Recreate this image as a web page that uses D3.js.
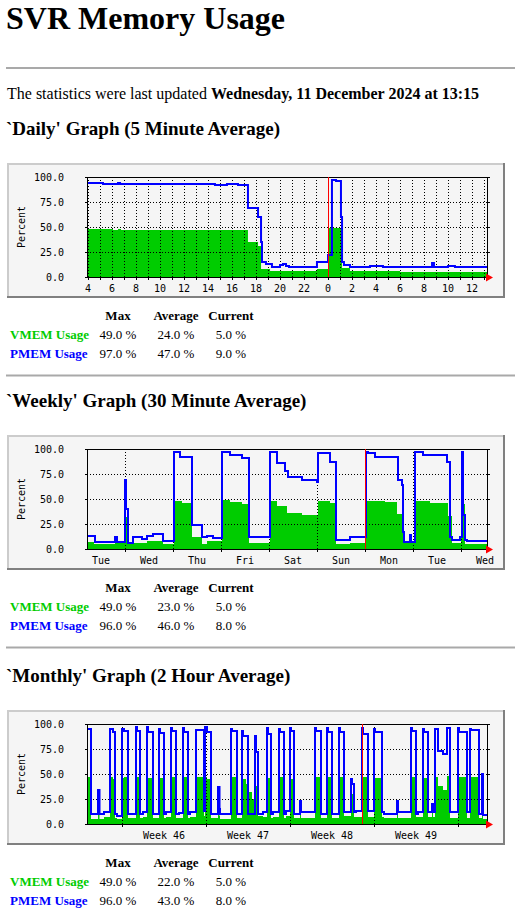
<!DOCTYPE html>
<html><head><meta charset="utf-8">
<script src="https://cdn.jsdelivr.net/npm/d3@7"></script>
<style>
html,body{margin:0;padding:0;background:#fff;}
svg{display:block;}
text{white-space:pre;}
</style></head>
<body>
<svg id="page" width="515" height="917"></svg>
<script>
// ---------- text ----------
const pageTitle = "SVR Memory Usage";
const updatedPrefix = "The statistics were last updated ";
const updatedWhen = "Wednesday, 11 December 2024 at 13:15";
const graphTitles = ["`Daily' Graph (5 Minute Average)", "`Weekly' Graph (30 Minute Average)", "`Monthly' Graph (2 Hour Average)"];
const seriesNames = ["VMEM Usage", "PMEM Usage"];
const statHeaders = ["Max", "Average", "Current"];
const yTicks = [0, 25, 50, 75, 100];
const yAxisTitle = "Percent";

// ---------- daily (hours relative to 11 Dec 00:00) ----------
const dailyDomain = [-20.0833, 13.25];
const dailyHours = [-20.08,-18.75,-17.92,-17.5,-17.33,-17.25,-9.42,-8.42,-7.5,-6.67,-5.83,-5.58,-5.5,-5.17,-4.83,-4.67,-4.0,-3.75,-3.5,-3.25,-0.92,0,0.08,0.33,0.67,1.08,1.17,1.33,1.83,3.5,4.58,6.0,8.67,8.83,10.0,10.58,13.25];
const dailyPmem  = [94,93,93,94,93,93,92,93,92,69,60,35,15,13,13,10,12,13,11,10,15,22,22,97,96,60,15,12,10,11,10,10,14,10,11,10,10];
const dailyVmem  = [48,48,47,48,48,47,47,47,47,35,31,8,8,8,6,6,6,6,6,6,8,8,49,49,49,49,9,9,6,6,6,5,5,5,5,5,5];
const dailyGridHours = [-20,-19,-18,-17,-16,-15,-14,-13,-12,-11,-10,-9,-8,-7,-6,-5,-4,-3,-2,-1,0,1,2,3,4,5,6,7,8,9,10,11,12,13];
const dailyLabelHours = [-20,-18,-16,-14,-12,-10,-8,-6,-4,-2,0,2,4,6,8,10,12];
const dailyLabels = ["4","6","8","10","12","14","16","18","20","22","0","2","4","6","8","10","12"];
const dailyRedHour = 0;
const dailyVmemStats = [49.0, 24.0, 5.0];
const dailyPmemStats = [97.0, 47.0, 9.0];

// ---------- weekly ----------
const weeklyDomain = [-187, 13];
const weeklyHours = [-187,-183.5,-183,-173,-172,-168,-167.5,-166.5,-164,-159.5,-157,-154,-149,-143.5,-140.5,-139.5,-134.5,-129.5,-127,-124,-119.5,-115.5,-109.5,-106,-95.5,-92,-88,-87,-86.5,-79.5,-72,-71.5,-65.5,-62.5,-55.5,-47.5,-46.5,-43,-38,-32,-31.5,-29.5,-29,-28.5,-25.5,-25,-23,-19,-15.5,-7,-6.5,-5.5,-4.5,-0.5,0,0.5,1,2,3,13];
const weeklyPmem  = [13,13,7,12,7,69,40,6,12,10,13,15,8,97,92,92,24,12,13,11,97,94,91,12,97,86,78,78,72,69,67,96,87,9,12,97,96,92,92,92,69,64,17,7,14,7,97,94,94,87,87,12,9,12,12,97,34,9,8,8];
const weeklyVmem  = [7,5,5,6,6,32,32,5,6,6,8,8,5,48,48,46,12,5,8,8,49,47,45,6,48,43,43,36,36,34,34,48,46,5,6,48,48,48,47,35,35,35,6,6,6,6,48,48,46,46,33,33,6,6,45,45,45,5,5,5];
const weeklyGridHours = [-168,-144,-120,-96,-72,-48,-24,0];
const weeklyLabelHours = [-180,-156,-132,-108,-84,-60,-36,-12,12];
const weeklyLabels = ["Tue","Wed","Thu","Fri","Sat","Sun","Mon","Tue","Wed"];
const weeklyRedHour = -48;
const weeklyVmemStats = [49.0, 23.0, 5.0];
const weeklyPmemStats = [96.0, 46.0, 8.0];

// ---------- monthly ----------
const monthlyDomain = [-790, 10];
const monthlyHours = [-790,-782,-768,-765,-756,-744,-738,-734,-730,-720,-716,-708,-692,-690,-684,-678,-670,-668,-658,-646,-644,-636,-632,-622,-620,-612,-606,-598,-596,-588,-584,-572,-556,-554,-550,-542,-528,-525,-524,-502,-500,-490,-480,-478,-472,-468,-460,-454,-452,-448,-438,-430,-428,-422,-418,-406,-404,-396,-392,-384,-382,-376,-364,-362,-334,-332,-322,-310,-308,-300,-286,-284,-276,-262,-260,-256,-252,-240,-238,-228,-216,-214,-200,-196,-170,-168,-142,-140,-132,-128,-118,-116,-108,-100,-98,-94,-88,-78,-70,-64,-48,-46,-30,-24,-22,-6,0,2,10];
const monthlyPmem  = [95,10,34,10,12,95,92,10,8,95,93,10,97,93,10,12,97,92,10,95,91,10,12,96,93,10,11,96,92,10,12,94,13,97,92,10,37,15,10,95,93,10,93,88,88,10,10,88,72,10,12,96,90,10,12,95,92,10,13,96,93,10,23,12,96,93,10,96,92,10,96,92,12,45,40,12,13,96,90,13,95,92,12,10,23,12,96,93,10,12,95,92,12,20,12,95,73,70,96,12,96,92,12,95,94,10,50,9,9];
const monthlyVmem  = [47,5,30,5,7,47,45,6,5,46,47,6,47,47,6,7,47,46,6,47,46,6,7,47,47,6,6,47,47,6,7,47,8,47,45,6,30,8,5,47,47,6,47,45,40,32,25,40,38,8,7,47,46,6,7,47,47,6,8,47,45,6,20,6,47,47,6,47,47,6,47,47,8,35,30,7,7,48,47,7,47,46,7,6,20,6,47,47,7,7,47,46,7,12,7,47,38,34,48,6,48,47,6,48,47,6,25,5,5];
const monthlyGridHours = [-720,-552,-384,-216,-48];
const monthlyLabelHours = [-636,-468,-300,-132];
const monthlyLabels = ["Week 46","Week 47","Week 48","Week 49"];
const monthlyRedHour = -240;
const monthlyVmemStats = [49.0, 22.0, 5.0];
const monthlyPmemStats = [96.0, 43.0, 8.0];

// ---------- drawing ----------
const svg = d3.select("#page");
const serif = "'Liberation Serif','Times New Roman',serif";
const mono = "'DejaVu Sans Mono',monospace";
const colV = "#00cc00", colP = "#0000ff";
const fmt = d3.format(".1f");

function hr(y) {
  svg.append("rect").attr("x", 6).attr("y", y - 1).attr("width", 509).attr("height", 2).attr("fill", "#a9a9a9");
}

svg.append("text").attr("x", 6).attr("y", 28.5).attr("font-family", serif)
  .attr("font-weight", "bold").attr("font-size", 32).text(pageTitle);
hr(68);
const upd = svg.append("text").attr("x", 7).attr("y", 99).attr("font-family", serif).attr("font-size", 16);
upd.append("tspan").text(updatedPrefix);
upd.append("tspan").attr("font-weight", "bold").text(updatedWhen);

function drawSection(T, title, cfg, hasHr) {
  svg.append("text").attr("x", 6).attr("y", T - 28).attr("font-family", serif)
    .attr("font-weight", "bold").attr("font-size", 19).text(title);

  const g = svg.append("g");
  g.append("rect").attr("x", 7).attr("y", T).attr("width", 498).attr("height", 135).attr("fill", "#f5f5f5");
  g.append("rect").attr("x", 7).attr("y", T).attr("width", 498).attr("height", 2).attr("fill", "#cccccc");
  g.append("rect").attr("x", 7).attr("y", T).attr("width", 2).attr("height", 135).attr("fill", "#cccccc");
  g.append("rect").attr("x", 503).attr("y", T).attr("width", 2).attr("height", 135).attr("fill", "#808080");
  g.append("rect").attr("x", 7).attr("y", T + 133).attr("width", 498).attr("height", 2).attr("fill", "#808080");

  const x = d3.scaleLinear().domain(cfg.domain).range([87, 487]);
  const y = d3.scaleLinear().domain([0, 100]).range([T + 114, T + 14]);
  const x0 = x.range()[0], x1 = x.range()[1], yb = y(0), yt = y(100);

  const pts = cfg.hours.map((h, i) => ({h, v: cfg.vmem[i], p: cfg.pmem[i]}));

  g.append("path").datum(pts)
    .attr("d", d3.area().x(d => x(d.h)).y0(yb).y1(d => y(d.v)).curve(d3.curveStepAfter))
    .attr("fill", colV);

  // horizontal grid
  yTicks.filter(v => v > 0 && v < 100).forEach(v => {
    g.append("line").attr("x1", x0).attr("x2", x1).attr("y1", y(v) + 0.5).attr("y2", y(v) + 0.5)
      .attr("stroke", "#000").attr("stroke-width", 1).attr("stroke-dasharray", "1,2");
  });
  // vertical grid
  cfg.grid.forEach(h => {
    const xx = Math.round(x(h)) + 0.5;
    g.append("line").attr("x1", xx).attr("x2", xx).attr("y1", yt).attr("y2", yb)
      .attr("stroke", "#000").attr("stroke-width", 1).attr("stroke-dasharray", "1,2");
    g.append("line").attr("x1", xx).attr("x2", xx).attr("y1", yb).attr("y2", yb + 3)
      .attr("stroke", "#000").attr("stroke-width", 1);
  });

  g.append("path").datum(pts)
    .attr("d", d3.line().x(d => x(d.h)).y(d => y(d.p)).curve(d3.curveStepAfter))
    .attr("fill", "none").attr("stroke", colP).attr("stroke-width", 2).attr("stroke-linejoin", "miter");

  // frame
  g.append("rect").attr("x", x0 + 0.5).attr("y", yt + 0.5).attr("width", x1 - x0).attr("height", yb - yt)
    .attr("fill", "none").attr("stroke", "#000").attr("stroke-width", 1);
  yTicks.forEach(v => {
    g.append("line").attr("x1", x0 - 2).attr("x2", x0 + 1).attr("y1", y(v) + 0.5).attr("y2", y(v) + 0.5).attr("stroke", "#000");
    g.append("line").attr("x1", x1).attr("x2", x1 + 3).attr("y1", y(v) + 0.5).attr("y2", y(v) + 0.5).attr("stroke", "#000");
    g.append("text").attr("x", 64).attr("y", y(v)).attr("dy", "0.36em").attr("text-anchor", "end")
      .attr("font-family", mono).attr("font-size", 10).attr("fill", "#000").text(fmt(v));
  });
  g.append("text").attr("transform", `translate(21,${(yt + yb) / 2}) rotate(-90)`)
    .attr("text-anchor", "middle").attr("dy", "0.36em")
    .attr("font-family", mono).attr("font-size", 10).text(yAxisTitle);

  cfg.labelHours.forEach((h, i) => {
    g.append("text").attr("x", x(h)).attr("y", T + 129).attr("text-anchor", "middle")
      .attr("font-family", mono).attr("font-size", 10).text(cfg.labels[i]);
  });

  // red marker line and arrow
  const xr = Math.round(x(cfg.red)) + 0.5;
  g.append("line").attr("x1", xr).attr("x2", xr).attr("y1", yt).attr("y2", yb)
    .attr("stroke", "#ff0000").attr("stroke-width", 1);
  g.append("path").attr("d", `M${x1 - 1},${yb - 3.5}L${x1 + 6},${yb + 0.5}L${x1 - 1},${yb + 4.5}Z`).attr("fill", "#ff0000");

  // stats table
  const cols = [118, 176, 231];
  const hy = T + 157;
  statHeaders.forEach((s, i) => {
    svg.append("text").attr("x", cols[i]).attr("y", hy).attr("text-anchor", "middle")
      .attr("font-family", serif).attr("font-weight", "bold").attr("font-size", 13).text(s);
  });
  [[seriesNames[0], colV, cfg.vStats], [seriesNames[1], colP, cfg.pStats]].forEach((row, r) => {
    const ry = hy + 19 * (r + 1);
    svg.append("text").attr("x", 10).attr("y", ry).attr("font-family", serif).attr("font-weight", "bold")
      .attr("font-size", 13).attr("fill", row[1]).text(row[0]);
    row[2].forEach((v, i) => {
      svg.append("text").attr("x", cols[i]).attr("y", ry).attr("text-anchor", "middle")
        .attr("font-family", serif).attr("font-size", 13).text(fmt(v) + " %");
    });
  });
  if (hasHr) hr(T + 212.5);
}

drawSection(163, graphTitles[0], {domain: dailyDomain, hours: dailyHours, pmem: dailyPmem, vmem: dailyVmem,
  grid: dailyGridHours, labelHours: dailyLabelHours, labels: dailyLabels, red: dailyRedHour,
  vStats: dailyVmemStats, pStats: dailyPmemStats}, true);
drawSection(435, graphTitles[1], {domain: weeklyDomain, hours: weeklyHours, pmem: weeklyPmem, vmem: weeklyVmem,
  grid: weeklyGridHours, labelHours: weeklyLabelHours, labels: weeklyLabels, red: weeklyRedHour,
  vStats: weeklyVmemStats, pStats: weeklyPmemStats}, true);
drawSection(710, graphTitles[2], {domain: monthlyDomain, hours: monthlyHours, pmem: monthlyPmem, vmem: monthlyVmem,
  grid: monthlyGridHours, labelHours: monthlyLabelHours, labels: monthlyLabels, red: monthlyRedHour,
  vStats: monthlyVmemStats, pStats: monthlyPmemStats}, false);
</script>
</body></html>
